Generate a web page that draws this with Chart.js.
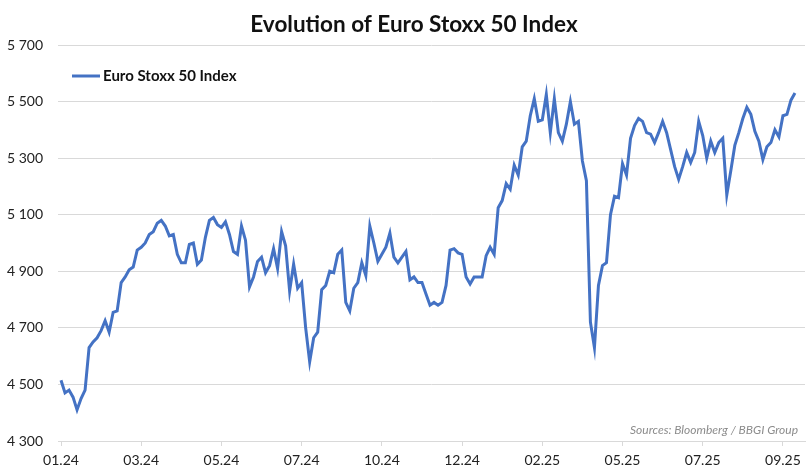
<!DOCTYPE html>
<html>
<head>
<meta charset="utf-8">
<title>Evolution of Euro Stoxx 50 Index</title>
<script src="https://cdn.jsdelivr.net/npm/chart.js@4/dist/chart.umd.min.js"></script>
<style>
  html, body { margin: 0; padding: 0; background: #ffffff; }
  #wrap { width: 811px; height: 471px; }
</style>
</head>
<body>
<div id="wrap"><canvas id="chart" width="811" height="471"></canvas></div>
<script>
// Data (roughly one value every ~2 trading days)
const seriesName = "Euro Stoxx 50 Index";
const indexValues = [
  4515, 4470, 4480, 4455, 4410, 4450, 4480, 4630, 4650, 4665,
  4690, 4725, 4685, 4755, 4760, 4860, 4880, 4905, 4915, 4975,
  4985, 5000, 5030, 5040, 5070, 5080, 5060, 5025, 5030, 4960,
  4930, 4930, 4995, 5000, 4925, 4940, 5020, 5080, 5090, 5065,
  5055, 5075, 5030, 4970, 4960, 5060, 5010, 4845, 4880, 4935,
  4950, 4895, 4920, 4980, 4910, 5040, 4990, 4830, 4925, 4840,
  4860, 4700, 4580, 4665, 4685, 4835, 4850, 4900, 4895, 4960,
  4975, 4790, 4760, 4840, 4860, 4930, 4885, 5060, 5000, 4935,
  4960, 4985, 5035, 4950, 4930, 4950, 4970, 4870, 4880, 4860,
  4860, 4820, 4780, 4790, 4780, 4790, 4850, 4975, 4980, 4965,
  4960, 4880, 4855, 4880, 4880, 4880, 4955, 4985, 4960, 5125,
  5150, 5210, 5190, 5275, 5240, 5340, 5360, 5450, 5510, 5430,
  5435, 5525, 5390, 5510, 5390, 5360, 5420, 5500, 5420, 5430,
  5290, 5220, 4720, 4630, 4850, 4920, 4930, 5100, 5165, 5160,
  5280, 5240, 5370, 5415, 5440, 5430, 5390, 5385, 5355, 5390,
  5430, 5390, 5330, 5270, 5225, 5270, 5320, 5285, 5320, 5430,
  5380, 5300, 5360, 5320, 5355, 5370, 5170, 5255, 5345, 5390,
  5440, 5480, 5455, 5395, 5360, 5295, 5340, 5355, 5400, 5375,
  5450, 5455, 5505, 5530
];
const tickLabels = ["01.24", "03.24", "05.24", "07.24", "10.24", "12.24", "02.25", "05.25", "07.25", "09.25"];
const labelStep = 20; // points between two date labels
const yTicks = [4300, 4500, 4700, 4900, 5100, 5300, 5500, 5700];

const chartTitle = "Evolution of Euro Stoxx 50 Index";
const sourceText = "Sources: Bloomberg / BBGI Group";

const FONT = "Lato, 'Open Sans', sans-serif";
const lineBlue = "#4472c4";
const gridGrey = "#d9d9d9";

// thousands with a space: 5700 -> "5 700"
function fmt(v) {
  return String(v).replace(/\B(?=(\d{3})+(?!\d))/g, " ");
}

// title, legend inside the plot (top left) and source note (bottom right)
const plotNotes = {
  id: "plotNotes",
  afterDraw(chart) {
    const { ctx, chartArea } = chart;
    const ds = chart.data.datasets[0];
    ctx.save();
    // title
    ctx.font = "bold 22.5px " + FONT;
    ctx.fillStyle = "#111111";
    ctx.textAlign = "center";
    ctx.textBaseline = "middle";
    ctx.fillText(chartTitle, 414, chartArea.top - 20);
    // legend
    const lx = chartArea.left + 14, ly = chartArea.top + 31;
    ctx.strokeStyle = ds.borderColor;
    ctx.lineWidth = 3;
    ctx.beginPath();
    ctx.moveTo(lx, ly);
    ctx.lineTo(lx + 28, ly);
    ctx.stroke();
    ctx.font = "bold 15px " + FONT;
    ctx.textAlign = "left";
    ctx.fillText(ds.label, lx + 31, ly);
    // source
    ctx.font = "italic 12px " + FONT;
    ctx.fillStyle = "#8c8c8c";
    ctx.textAlign = "right";
    ctx.fillText(sourceText, chartArea.right - 7, chartArea.bottom - 11);
    ctx.restore();
  }
};

const ctx = document.getElementById("chart").getContext("2d");
new Chart(ctx, {
  type: "line",
  data: {
    datasets: [{
      label: seriesName,
      data: indexValues.map((v, i) => ({ x: i, y: v })),
      borderColor: lineBlue,
      backgroundColor: lineBlue,
      borderWidth: 3,
      pointRadius: 0,
      tension: 0,
      fill: false
    }]
  },
  options: {
    responsive: false,
    animation: false,
    devicePixelRatio: 1,
    layout: { padding: { left: 0, right: 6, top: 45, bottom: 0 } },
    plugins: {
      title: { display: false },
      legend: { display: false },
      tooltip: { enabled: false }
    },
    scales: {
      x: {
        type: "linear",
        min: -0.75,
        max: 185.5,
        afterBuildTicks(scale) {
          scale.ticks = tickLabels.map((t, k) => ({ value: k * labelStep }));
        },
        afterFit(scale) { scale.height = 30; },
        ticks: {
          autoSkip: false,
          maxRotation: 0,
          padding: 6,
          color: "#222222",
          font: { family: FONT, size: 14 },
          callback: (v) => tickLabels[Math.round(v / labelStep)] || ""
        },
        grid: { drawOnChartArea: false, drawTicks: true, tickLength: 5, color: gridGrey },
        border: { display: true, color: gridGrey }
      },
      y: {
        min: 4300,
        max: 5700,
        afterBuildTicks(scale) {
          scale.ticks = yTicks.map(v => ({ value: v }));
        },
        afterFit(scale) { scale.width = 58; },
        ticks: {
          padding: 15,
          color: "#222222",
          font: { family: FONT, size: 14 },
          callback: (v) => fmt(v)
        },
        grid: { drawTicks: false, color: gridGrey, lineWidth: 1 },
        border: { display: false }
      }
    }
  },
  plugins: [plotNotes]
});
</script>
</body>
</html>
